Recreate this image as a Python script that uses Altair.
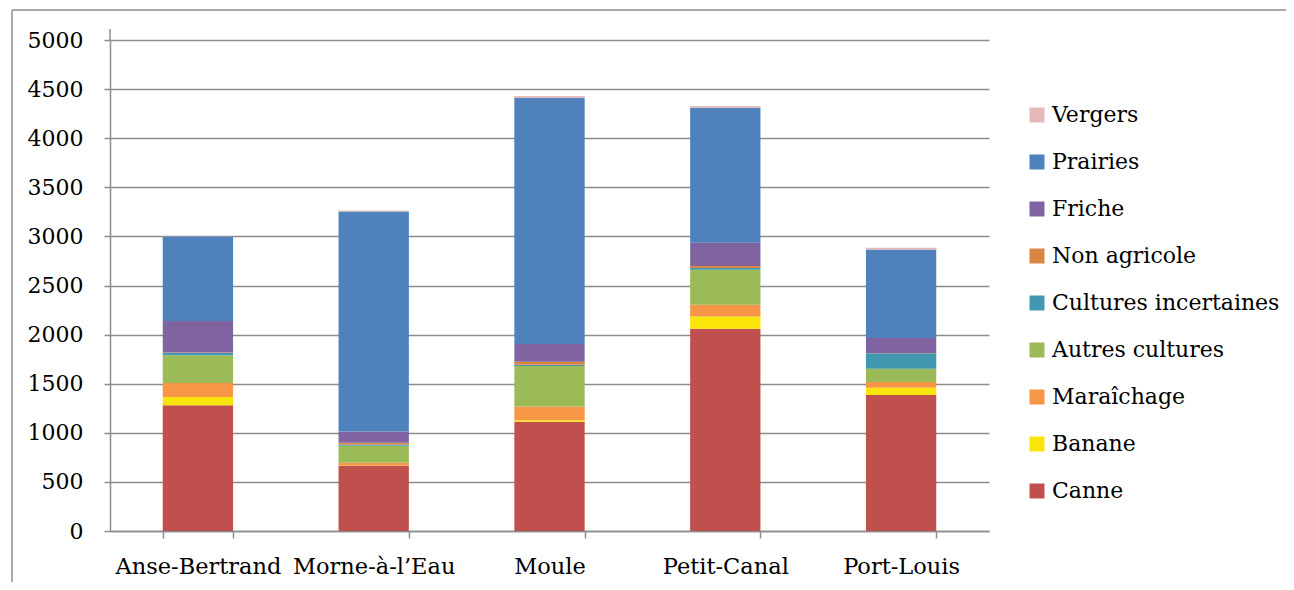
import altair as alt
import pandas as pd

communes = ["Anse-Bertrand", "Morne-à-l’Eau", "Moule", "Petit-Canal", "Port-Louis"]
categories = ["Canne", "Banane", "Maraîchage", "Autres cultures", "Cultures incertaines",
              "Non agricole", "Friche", "Prairies", "Vergers"]
colors = ["#C0504D", "#F9E50A", "#F79646", "#9BBB59", "#4298B0",
          "#DA8441", "#8064A2", "#4F81BD", "#E6B9B8"]

canne = [1280, 665, 1113, 2060, 1385]
banane = [85, 3, 14, 125, 74]
maraichage = [142, 27, 142, 119, 58]
autres_cultures = [282, 173, 411, 356, 135]
cultures_incertaines = [24, 14, 13, 17, 157]
non_agricole = [5, 17, 31, 21, 3]
friche = [320, 115, 180, 237, 153]
prairies = [860, 2239, 2507, 1375, 902]
vergers = [3, 10, 20, 17, 17]

series = [canne, banane, maraichage, autres_cultures, cultures_incertaines,
          non_agricole, friche, prairies, vergers]

rows = []
for i, (cat, vals) in enumerate(zip(categories, series)):
    for c, v in zip(communes, vals):
        rows.append({"commune": c, "type": cat, "value": v, "idx": i})
df = pd.DataFrame(rows)

FONT = "DejaVu Serif"
GRID = "#8c8c8c"

bars = alt.Chart(df).mark_bar().encode(
    x=alt.X("commune:N", sort=communes,
            scale=alt.Scale(paddingInner=0.6, paddingOuter=0.3),
            axis=alt.Axis(title=None, labelAngle=0, tickBand="extent", tickSize=7,
                          tickColor=GRID, domainColor=GRID, domainWidth=1.5, tickWidth=1.5,
                          labelFont=FONT, labelFontSize=22.5, labelColor="black",
                          labelPadding=17, grid=False, labelLimit=0)),
    y=alt.Y("value:Q", stack="zero",
            scale=alt.Scale(domain=[0, 5000], nice=False),
            axis=alt.Axis(title=None, values=list(range(0, 5001, 500)), grid=True,
                          format="d",
                          gridColor=GRID, gridWidth=1.5, domainColor=GRID, domainWidth=1.5,
                          tickColor=GRID, tickWidth=1.5, tickSize=6,
                          labelFont=FONT, labelFontSize=22, labelColor="black",
                          labelPadding=21)),
    color=alt.Color("type:N",
                    scale=alt.Scale(domain=categories[::-1], range=colors[::-1]),
                    legend=alt.Legend(title=None, orient="none", legendX=916, legendY=64,
                                      symbolType="square", symbolSize=225,
                                      symbolStrokeWidth=0, labelFont=FONT,
                                      labelFontSize=22, labelColor="black",
                                      rowPadding=25, labelOffset=4, labelLimit=0)),
    order=alt.Order("idx:Q", sort="ascending"),
)

one = pd.DataFrame({"k": [0]})
frame_top = alt.Chart(one).mark_rule(color=GRID, strokeWidth=1.5).encode(
    x=alt.value(-98), x2=alt.value(1200), y=alt.value(-30))
frame_left = alt.Chart(one).mark_rule(color=GRID, strokeWidth=1.5).encode(
    x=alt.value(-98), y=alt.value(-30), y2=alt.value(560))
axis_ext = alt.Chart(one).mark_rule(color=GRID, strokeWidth=1.5).encode(
    x=alt.value(0), y=alt.value(-11), y2=alt.value(0))

chart = alt.layer(bars, frame_top, frame_left, axis_ext).properties(
    width=879, height=491,
    autosize=alt.AutoSizeParams(type="none"),
    padding={"left": 102, "top": 32, "right": 297, "bottom": 51},
).configure_view(stroke=None)

chart.save("out.html", embed_options={"renderer": "svg", "actions": False})
